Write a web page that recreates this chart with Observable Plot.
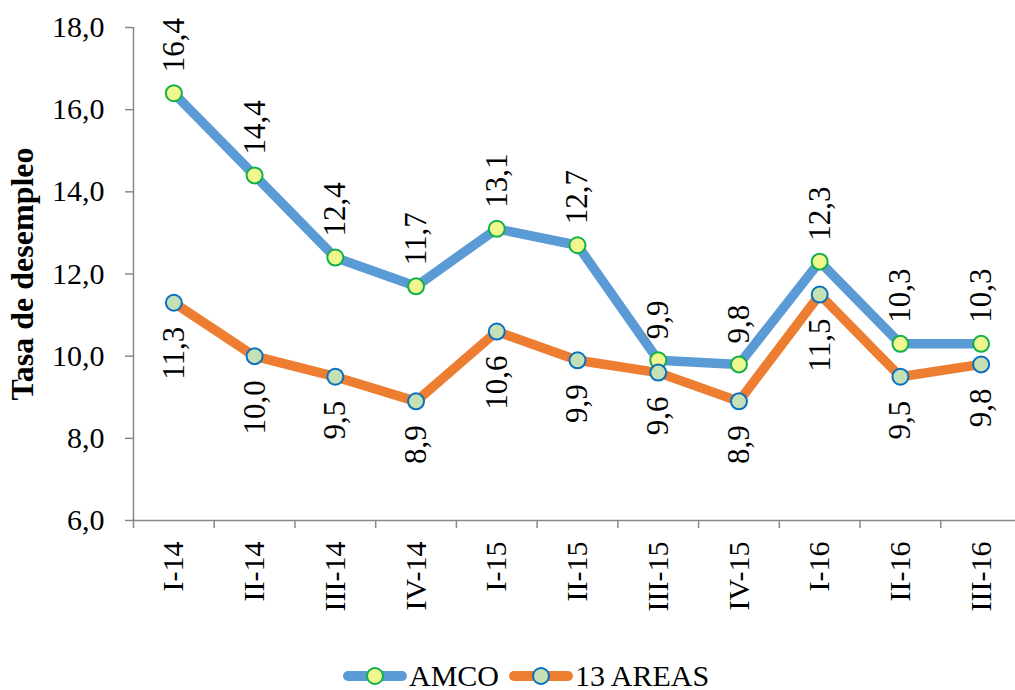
<!DOCTYPE html>
<html>
<head>
<meta charset="utf-8">
<script src="https://cdn.jsdelivr.net/npm/d3@7"></script>
<script src="https://cdn.jsdelivr.net/npm/@observablehq/plot@0.6"></script>
<style>
  html, body { margin: 0; padding: 0; background: white; overflow: hidden; }
  #wrap { position: relative; width: 1015px; height: 690px; font-family: "Liberation Serif", "Times New Roman", serif; }
  #legend { position: absolute; left: 343px; top: 662px; height: 28px; display: flex; align-items: center; font-size: 30px; line-height: 28px; color: #000; }
  #legend .item { display: flex; align-items: center; height: 28px; }
  #legend .lbl { margin-left: 2px; margin-right: 10px; line-height: 28px; white-space: nowrap; }
</style>
</head>
<body>
<div id="wrap">
  <div id="chart"></div>
  <div id="legend"></div>
</div>
<script>
const categories = ["I-14","II-14","III-14","IV-14","I-15","II-15","III-15","IV-15","I-16","II-16","III-16"];
const amco = [16.4, 14.4, 12.4, 11.7, 13.1, 12.7, 9.9, 9.8, 12.3, 10.3, 10.3];
const areas13 = [11.3, 10.0, 9.5, 8.9, 10.6, 9.9, 9.6, 8.9, 11.5, 9.5, 9.8];
const yTicks = [6, 8, 10, 12, 14, 16, 18];
const seriesNames = ["AMCO", "13 AREAS"];
const yTitle = "Tasa de desempleo";

const colors = {
  amcoLine: "#5b9bd5", amcoFill: "#f0f78f", amcoStroke: "#10b04a",
  areaLine: "#ed7d31", areaFill: "#c5e0b4", areaStroke: "#0a70c0",
  axis: "#898989"
};

const fmt = d => d.toFixed(1).replace(".", ",");
const rows = categories.map((c, i) => ({i, cat: c, amco: amco[i], areas: areas13[i]}));
const bounds = d3.range(-0.5, categories.length, 1);
const font = "'Liberation Serif', 'Times New Roman', serif";

const chart = Plot.plot({
  width: 1015,
  height: 655,
  marginLeft: 133,
  marginRight: 0,
  marginTop: 27,
  marginBottom: 135,
  style: {fontFamily: font, background: "white", overflow: "visible"},
  x: {domain: [-0.5, categories.length - 0.5], range: [133, 1021], axis: null},
  y: {domain: [6, 18], axis: null},
  marks: [
    Plot.ruleY([6], {stroke: colors.axis, strokeWidth: 1.5}),
    Plot.ruleX([-0.5], {stroke: colors.axis, strokeWidth: 1.5}),
    Plot.axisY({ticks: yTicks, tickSize: 8, tickPadding: 21, tickFormat: fmt, fontSize: 30, fontFamily: font, stroke: colors.axis, strokeWidth: 1.5, fill: "black", label: null}),
    Plot.axisX({ticks: bounds, tickSize: 8, tickFormat: () => "", stroke: colors.axis, strokeWidth: 1.5, label: null}),
    Plot.axisX({ticks: d3.range(categories.length), tickSize: 0, tickPadding: 21, tickRotate: -90, tickFormat: i => categories[i], fontSize: 30, fontFamily: font, fill: "black", label: null}),
    Plot.line(rows, {x: "i", y: "amco", stroke: colors.amcoLine, strokeWidth: 9.5, strokeLinejoin: "round", strokeLinecap: "round"}),
    Plot.dot(rows, {x: "i", y: "amco", r: 8, fill: colors.amcoFill, stroke: colors.amcoStroke, strokeWidth: 2}),
    Plot.line(rows, {x: "i", y: "areas", stroke: colors.areaLine, strokeWidth: 9.5, strokeLinejoin: "round", strokeLinecap: "round"}),
    Plot.dot(rows, {x: "i", y: "areas", r: 8, fill: colors.areaFill, stroke: colors.areaStroke, strokeWidth: 2}),
    Plot.text(rows, {x: "i", y: "amco", text: d => fmt(d.amco), rotate: -90, textAnchor: "start", lineAnchor: "middle", dy: -21, fontSize: 31, fontFamily: font, fill: "black"}),
    Plot.text(rows, {x: "i", y: "areas", text: d => fmt(d.areas), rotate: -90, textAnchor: "end", lineAnchor: "middle", dy: 24, fontSize: 31, fontFamily: font, fill: "black"}),
    Plot.text([yTitle], {frameAnchor: "left", rotate: -90, dx: -111, dy: 0, fontWeight: "bold", fontSize: 32, fontFamily: font, textAnchor: "middle", lineAnchor: "middle", fill: "black"})
  ]
});
document.getElementById("chart").appendChild(chart);

// Legend
const legendSpec = [
  {name: seriesNames[0], line: colors.amcoLine, fill: colors.amcoFill, stroke: colors.amcoStroke},
  {name: seriesNames[1], line: colors.areaLine, fill: colors.areaFill, stroke: colors.areaStroke}
];
const legend = d3.select("#legend");
legendSpec.forEach(s => {
  const item = legend.append("div").attr("class", "item");
  const svg = item.append("svg").attr("width", 64).attr("height", 22);
  svg.append("line").attr("x1", 5).attr("x2", 59).attr("y1", 11).attr("y2", 11)
    .attr("stroke", s.line).attr("stroke-width", 10).attr("stroke-linecap", "round");
  svg.append("circle").attr("cx", 32).attr("cy", 11).attr("r", 8)
    .attr("fill", s.fill).attr("stroke", s.stroke).attr("stroke-width", 2);
  item.append("span").attr("class", "lbl").text(s.name);
});
</script>
</body>
</html>
